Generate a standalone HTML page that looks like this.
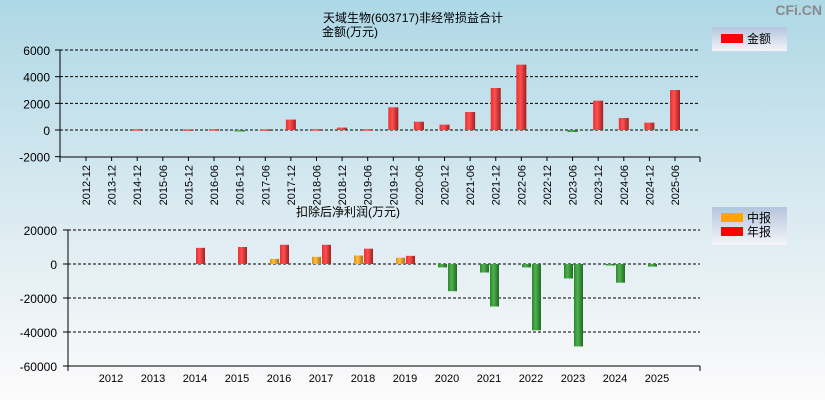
<!DOCTYPE html>
<html><head><meta charset="utf-8"><style>
body{margin:0;}
#wrap{width:825px;height:400px;position:relative;overflow:hidden;background:linear-gradient(#aed8e6,#d8e9f0 50%,#fdfbfb);font-family:"Liberation Sans","Noto Sans CJK SC",sans-serif;}
svg text{font-family:"Liberation Sans","Noto Sans CJK SC",sans-serif;}
</style></head><body>
<div id="wrap">
<svg id="s" width="825" height="400">
<defs>
<linearGradient id="gr" x1="0" x2="1"><stop offset="0" stop-color="#e83030"/><stop offset="0.4" stop-color="#ff5050"/><stop offset="1" stop-color="#a02020"/></linearGradient>
<linearGradient id="gg" x1="0" x2="1"><stop offset="0" stop-color="#2a8a2a"/><stop offset="0.4" stop-color="#50b050"/><stop offset="1" stop-color="#1f6a1f"/></linearGradient>
<linearGradient id="go" x1="0" x2="1"><stop offset="0" stop-color="#e09010"/><stop offset="0.4" stop-color="#ffc040"/><stop offset="1" stop-color="#b07010"/></linearGradient>
<linearGradient id="lg" x1="0" y1="0" x2="0" y2="1"><stop offset="0" stop-color="#b4c4de"/><stop offset="1" stop-color="#f4f4f8"/></linearGradient>
</defs>
<text x="822" y="15" font-size="14" font-weight="bold" fill="#8a8a8a" text-anchor="end">CFi.CN</text>
<text x="323" y="22" font-size="12">天域生物(603717)非经常损益合计</text>
<text x="322" y="36" font-size="12">金额(万元)</text>
<text x="296" y="216" font-size="12">扣除后净利润(万元)</text>
<g>
<rect x="712" y="27" width="75" height="24" fill="url(#lg)"/>
<rect x="721" y="34" width="22" height="9" fill="#ff0000"/>
<text x="747" y="43" font-size="12">金额</text>
</g>
<g>
<rect x="712" y="207" width="75" height="38" fill="url(#lg)"/>
<rect x="721" y="213" width="22" height="9" fill="#ffa500"/>
<text x="747" y="222" font-size="12">中报</text>
<rect x="721" y="227" width="22" height="9" fill="#ff0000"/>
<text x="747" y="236" font-size="12">年报</text>
</g>
<g id="top"></g><g id="bot"></g>
</svg></div>
<script>
const topCats=["2012-12","2013-12","2014-12","2015-06","2015-12","2016-06","2016-12","2017-06","2017-12","2018-06","2018-12","2019-06","2019-12","2020-06","2020-12","2021-06","2021-12","2022-06","2022-12","2023-06","2023-12","2024-06","2024-12","2025-06"];
const topVals=[0,0,60,0,50,60,-50,50,780,60,180,60,1700,620,400,1350,3150,4900,0,-150,2200,900,550,3000];
const topTicks=[6000,4000,2000,0,-2000];
const years=["2012","2013","2014","2015","2016","2017","2018","2019","2020","2021","2022","2023","2024","2025"];
const midVals=[0,0,0,0,3000,4200,5000,3700,-2000,-5000,-2000,-8500,-500,-1500];
const annVals=[0,0,9500,10000,11300,11300,9000,4800,-16000,-25000,-39000,-48500,-11000,0];
const botTicks=[20000,0,-20000,-40000,-60000];
const NS="http://www.w3.org/2000/svg";
function mk(p,t,a){const e=document.createElementNS(NS,t);for(const k in a)e.setAttribute(k,a[k]);p.appendChild(e);return e;}
const T=document.getElementById('top');
const ty=v=>130-v*(80/6000);
mk(T,'line',{x1:60,y1:50,x2:60,y2:157,stroke:'#000'});
mk(T,'line',{x1:60,y1:157,x2:700,y2:157,stroke:'#000'});
mk(T,'line',{x1:700,y1:157,x2:700,y2:162,stroke:'#000'});
mk(T,'line',{x1:60,y1:157,x2:60,y2:162,stroke:'#000'});
topTicks.forEach(v=>{const y=ty(v);
 if(v>-2000){const g=mk(T,'line',{x1:60,y1:y,x2:700,y2:y,stroke:'#000','stroke-dasharray':'3,2'});}
 mk(T,'line',{x1:55,y1:y,x2:60,y2:y,stroke:'#000'});
 const t=mk(T,'text',{x:50,y:y+5,'font-size':12,'text-anchor':'end'});t.textContent=v;
 });
topCats.forEach((c,i)=>{
 const xx=86+i*((675-86)/(topCats.length-1));
 mk(T,'line',{x1:xx,y1:157,x2:xx,y2:161,stroke:'#000'});
 const t=mk(T,'text',{x:0,y:0,'font-size':11,'text-anchor':'end',transform:`translate(${xx+4},165) rotate(-90)`});t.textContent=c;
 
 const v=topVals[i]; if(v!==0){const y1=ty(Math.max(v,0)),y2=ty(Math.min(v,0));
 const r=mk(T,'rect',{x:xx-5,y:y1,width:10,height:Math.max(1.5,y2-y1),fill:v>0?'url(#gr)':'url(#gg)'});
 }});
const B=document.getElementById('bot');
const by=v=>264-v*(34/20000);
const bx=i=>111+i*((657-111)/(years.length-1));
mk(B,'line',{x1:68,y1:230,x2:68,y2:366,stroke:'#000'});
mk(B,'line',{x1:68,y1:366,x2:700,y2:366,stroke:'#000'});
mk(B,'line',{x1:68,y1:366,x2:68,y2:371,stroke:'#000'});
mk(B,'line',{x1:700,y1:366,x2:700,y2:371,stroke:'#000'});
botTicks.forEach(v=>{const y=by(v);
 if(v>-60000){const g=mk(B,'line',{x1:68,y1:y,x2:700,y2:y,stroke:'#000','stroke-dasharray':'3,2'});}
 mk(B,'line',{x1:63,y1:y,x2:68,y2:y,stroke:'#000'});
 const t=mk(B,'text',{x:57,y:y+5,'font-size':12,'text-anchor':'end'});t.textContent=v;
 });
years.forEach((yr,i)=>{const x=bx(i);
 const t=mk(B,'text',{x:x,y:382,'font-size':11,'text-anchor':'middle'});t.textContent=yr;
 
 [[midVals[i],x-9,'url(#go)','mid'],[annVals[i],x+1,'url(#gr)','annual']].forEach(([v,x0,f,n])=>{
  if(v===0)return;const y1=by(Math.max(v,0)),y2=by(Math.min(v,0));
  const r=mk(B,'rect',{x:x0,y:y1,width:9,height:Math.max(1.5,y2-y1),fill:v>0?f:'url(#gg)'});
  });});
</script>
</body></html>
